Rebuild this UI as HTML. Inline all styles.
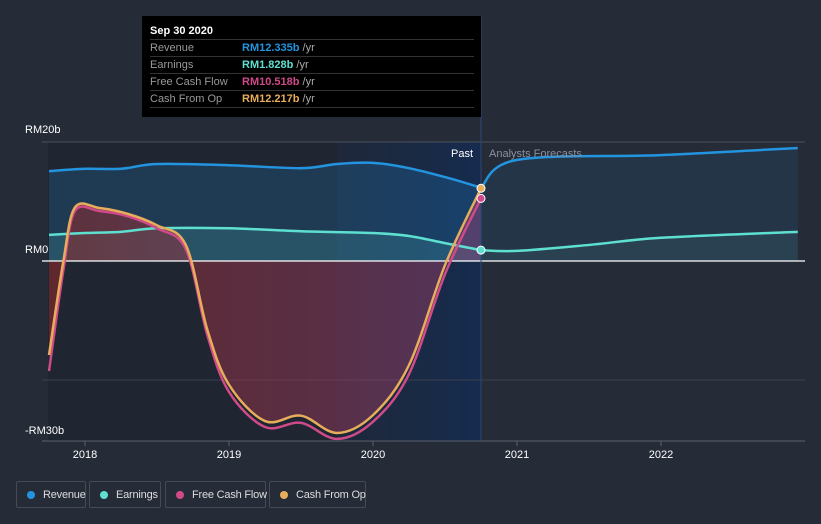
<!DOCTYPE html>
<html><head><meta charset="utf-8"><style>
body{margin:0;background:#252b37;font-family:"Liberation Sans",sans-serif;}
#wrap{position:relative;width:821px;height:524px;overflow:hidden;background:#252b37}
.tt{position:absolute;left:142px;top:16px;width:339px;height:101px;background:#000;color:#fff;font-size:11px}
.tt .h{position:absolute;left:8px;top:9px;font-weight:bold}
.tt .r{position:absolute;left:8px;width:324px;height:17px;border-top:1px solid #333;color:#999}
.tt .r span{position:absolute;left:92px;top:2px;font-weight:bold}
.tt .r i{font-style:normal;color:#aaa;font-weight:normal}
.tt .r b{font-weight:normal;position:absolute;top:2px;left:0}
.leg{position:absolute;top:481px;height:27px;border:1px solid #444b57;border-radius:2px;color:#ddd;font-size:11px;letter-spacing:-0.2px;line-height:26px;box-sizing:border-box;white-space:nowrap}
.leg .d{position:absolute;left:10px;top:9px;width:8px;height:8px;border-radius:50%}
.leg .t{position:absolute;left:26px}
</style></head><body>
<div id="wrap">
<svg id="chart" width="821" height="524" style="position:absolute;left:0;top:0"></svg>
<div class="tt">
<div class="h">Sep 30 2020</div>
<div class="r" style="top:23px"><b>Revenue</b><span style="color:#2394df">RM12.335b <i>/yr</i></span></div>
<div class="r" style="top:40px"><b>Earnings</b><span style="color:#5ee0d1">RM1.828b <i>/yr</i></span></div>
<div class="r" style="top:57px"><b>Free Cash Flow</b><span style="color:#d04a8a">RM10.518b <i>/yr</i></span></div>
<div class="r" style="top:74px"><b>Cash From Op</b><span style="color:#e8ad5a">RM12.217b <i>/yr</i></span></div>
<div class="r" style="top:91px;height:0"></div>
</div>
<div class="leg" style="left:16px;width:70px"><div class="d" style="background:#2394df"></div><div class="t">Revenue</div></div>
<div class="leg" style="left:89px;width:72px"><div class="d" style="background:#5ee0d1"></div><div class="t">Earnings</div></div>
<div class="leg" style="left:165px;width:101px"><div class="d" style="background:#d04a8a"></div><div class="t">Free Cash Flow</div></div>
<div class="leg" style="left:269px;width:97px"><div class="d" style="background:#e8ad5a"></div><div class="t">Cash From Op</div></div>
</div>
<script>
const revYears=[2017.75,2018,2018.25,2018.5,2019,2019.5,2019.75,2020,2020.25,2020.5,2020.75];
const revVals=[15.1,15.5,15.5,16.3,16.1,15.6,16.3,16.5,15.6,14.1,12.335];
const revFYears=[2020.75,2021,2022,2022.95];
const revFVals=[12.335,17.0,17.8,19.0];
const earnYears=[2017.75,2018,2018.25,2018.5,2019,2019.5,2020,2020.25,2020.5,2020.75];
const earnVals=[4.4,4.7,4.9,5.5,5.5,5.0,4.7,4.2,3.0,1.828];
const earnFYears=[2020.75,2021,2021.5,2022,2022.95];
const earnFVals=[1.828,1.7,2.7,3.9,4.9];
const cfoYears=[2017.75,2017.85,2017.93,2018.1,2018.3,2018.5,2018.7,2018.85,2019,2019.25,2019.5,2019.75,2020,2020.25,2020.5,2020.75];
const cfoVals=[-15.8,0,9.0,8.9,7.9,6.0,2.7,-11.6,-20.8,-26.9,-26.0,-28.9,-25.9,-17.5,-0.7,12.217];
const fcfVals=[-18.5,-1.5,8.4,8.4,7.5,5.5,2.0,-12.5,-22.0,-27.9,-27.2,-29.9,-27.0,-19.0,-2.2,10.518];
const yTicks=[20,0,-30];const yTickLabels=["RM20b","RM0","-RM30b"];
const xTicks=[2018,2019,2020,2021,2022];
const X=v=>85+(v-2018)*144, Y=v=>261-v*5.95;
const svg=document.getElementById('chart');const NS='http://www.w3.org/2000/svg';
function mk(t,a,p){const e=document.createElementNS(NS,t);for(const k in a)e.setAttribute(k,a[k]);(p||svg).appendChild(e);return e;}
function path(xs,vs){const p=xs.map((x,i)=>[X(x),Y(vs[i])]);let d='M'+p[0];for(let i=0;i<p.length-1;i++){const a=p[i-1]||p[i],b=p[i],c=p[i+1],e=p[i+2]||c;d+=` C${b[0]+(c[0]-a[0])/6},${b[1]+(c[1]-a[1])/6} ${c[0]-(e[0]-b[0])/6},${c[1]-(e[1]-b[1])/6} ${c[0]},${c[1]}`;}return d;}
const defs=mk('defs',{});
defs.innerHTML='<linearGradient id="hl" x1="0" x2="1"><stop offset="0" stop-color="#1d2a40" stop-opacity="0.6"/><stop offset="1" stop-color="#142c52" stop-opacity="0.9"/></linearGradient><linearGradient id="red" x1="0" x2="1"><stop offset="0" stop-color="#8a2a2a" stop-opacity="0.65"/><stop offset="1" stop-color="#9a4070" stop-opacity="0.5"/></linearGradient>';
mk('rect',{x:48,y:142,width:X(2020.75)-48,height:299,fill:'#1f2531',});
mk('rect',{x:X(2019.75),y:142,width:X(2020.75)-X(2019.75),height:299,fill:'url(#hl)',});
mk('line',{x1:42,x2:805,y1:142,y2:142,stroke:'#4a505c',});
mk('line',{x1:42,x2:805,y1:Y(-20),y2:Y(-20),stroke:'#3a404c',});
function area(xs,vs,fill,op,name){const d=path(xs,vs)+` L${X(xs[xs.length-1])},${Y(0)} L${X(xs[0])},${Y(0)} Z`;const e=mk('path',{d:d,fill:fill,'fill-opacity':op});}
area(revYears,revVals,'#2394df',0.2,'revenue-area');area(revFYears,revFVals,'#2394df',0.1,'revenue-forecast-area');
area(earnYears,earnVals,'#5ee0d1',0.15,'earnings-area');area(earnFYears,earnFVals,'#5ee0d1',0.07,'earnings-forecast-area');
area(cfoYears,cfoVals,'url(#red)',0.9,'cashflow-area');
mk('line',{x1:42,x2:805,y1:Y(0),y2:Y(0),stroke:'#fff','stroke-width':1.2,});
mk('line',{x1:42,x2:805,y1:441,y2:441,stroke:'#5a606c',});
mk('line',{x1:X(2020.75),x2:X(2020.75),y1:16,y2:441,stroke:'#2a4a7a',});
function line(xs,vs,c,name){const e=mk('path',{d:path(xs,vs),fill:'none',stroke:c,'stroke-width':2.5});}
line(revYears,revVals,'#2394df','revenue-line');line(revFYears,revFVals,'#2394df','revenue-forecast-line');
line(earnYears,earnVals,'#5ee0d1','earnings-line');line(earnFYears,earnFVals,'#5ee0d1','earnings-forecast-line');
line(cfoYears,fcfVals,'#d04a8a','fcf-line');line(cfoYears,cfoVals,'#e8ad5a','cfo-line');
[[earnVals,'#5ee0d1'],[fcfVals,'#d04a8a'],[cfoVals,'#e8ad5a']].forEach(([v,c])=>{const e=mk('circle',{cx:X(2020.75),cy:Y(v[v.length-1]),r:4,fill:c,stroke:'#fff','stroke-width':1});});
yTicks.forEach((t,i)=>{const e=mk('text',{x:25,y:t===20?133:t===0?253:434,fill:'#fff','font-size':11});e.textContent=yTickLabels[i];});
xTicks.forEach(t=>{mk('line',{x1:X(t),x2:X(t),y1:441,y2:446,stroke:'#5a606c'});const e=mk('text',{x:X(t),y:458,fill:'#fff','font-size':11,'text-anchor':'middle'});e.textContent=t;});
let e=mk('text',{x:473,y:157,fill:'#fff','font-size':11,'text-anchor':'end'});e.textContent='Past';
e=mk('text',{x:489,y:157,fill:'#8a909c','font-size':11});e.textContent='Analysts Forecasts';
</script>
</body></html>
